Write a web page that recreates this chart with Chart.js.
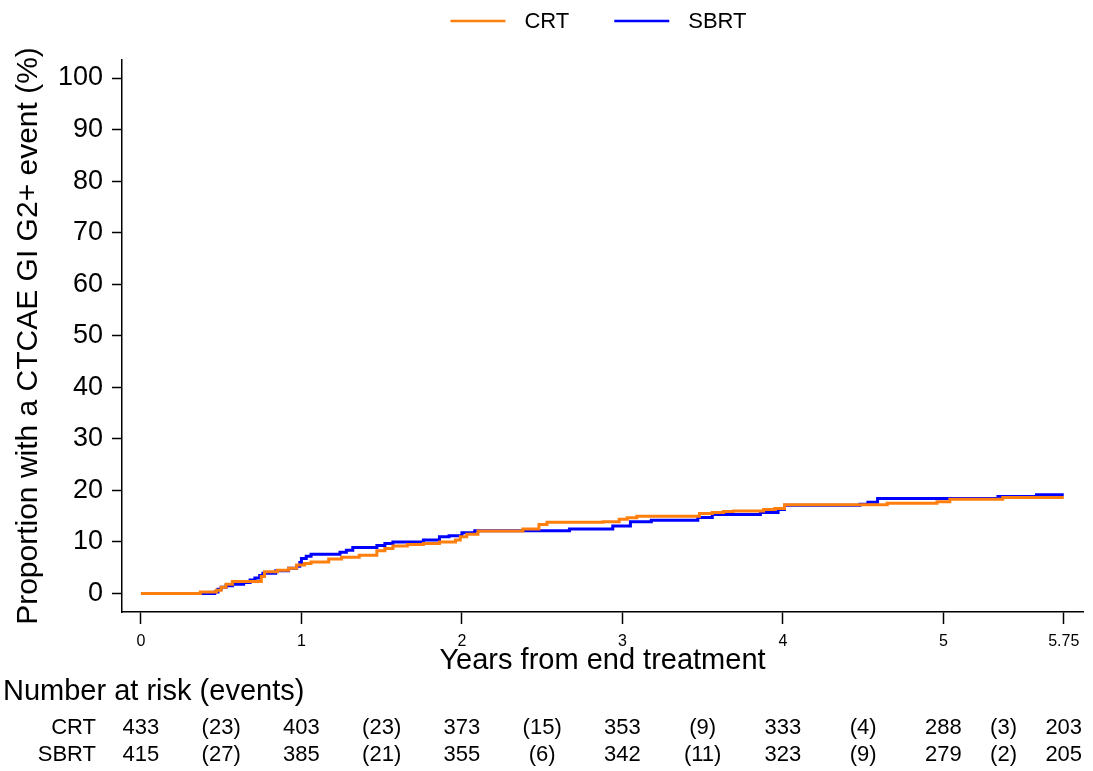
<!DOCTYPE html>
<html>
<head>
<meta charset="utf-8">
<script src="https://cdn.jsdelivr.net/npm/chart.js@4/dist/chart.umd.min.js"></script>
<style>
  body { margin: 0; background: #fff; }
  #wrap { width: 1093px; height: 771px; }
</style>
</head>
<body>
<div id="wrap"><canvas id="cumChart" width="1093" height="771"></canvas></div>
<script>
// Cumulative incidence of CTCAE GI G2+ events (step curves)
const crtTimes = [0, 0.37, 0.47, 0.50, 0.53, 0.57, 0.75, 0.77, 0.85, 0.92, 0.97, 1.02, 1.06, 1.17, 1.25, 1.36, 1.47, 1.52, 1.57, 1.66, 1.76, 1.86, 1.96, 1.99, 2.03, 2.10, 2.38, 2.48, 2.53, 2.88, 2.98, 3.03, 3.09, 3.48, 3.56, 3.63, 3.69, 3.88, 3.95, 4.01, 4.65, 4.96, 5.04, 5.37, 5.75];
const crtValues = [0, 0.3, 0.6, 1.2, 1.8, 2.3, 3.3, 4.2, 4.5, 4.9, 5.5, 5.8, 6.1, 6.7, 7.0, 7.4, 8.3, 8.7, 9.2, 9.5, 9.7, 10.0, 10.35, 11.0, 11.5, 12.1, 12.5, 13.4, 13.8, 13.9, 14.4, 14.7, 15.0, 15.5, 15.7, 15.9, 16.0, 16.3, 16.5, 17.2, 17.5, 17.8, 18.3, 18.6, 18.6];

const sbrtTimes = [0, 0.46, 0.48, 0.50, 0.53, 0.57, 0.64, 0.68, 0.71, 0.74, 0.76, 0.84, 0.92, 0.97, 0.99, 1.00, 1.03, 1.06, 1.24, 1.28, 1.32, 1.47, 1.52, 1.57, 1.76, 1.86, 1.92, 2.00, 2.08, 2.67, 2.94, 3.05, 3.18, 3.47, 3.56, 3.86, 3.97, 4.01, 4.48, 4.53, 4.59, 5.34, 5.58, 5.75];
const sbrtValues = [0, 0.3, 0.8, 1.2, 1.5, 1.8, 2.1, 2.6, 3.0, 3.5, 3.9, 4.4, 4.9, 5.3, 6.0, 6.8, 7.2, 7.6, 8.0, 8.4, 8.9, 9.3, 9.7, 10.0, 10.35, 11.0, 11.2, 11.8, 12.15, 12.5, 13.1, 13.9, 14.2, 14.75, 15.3, 15.7, 16.3, 17.1, 17.3, 17.7, 18.4, 18.8, 19.15, 19.15];

// axis ticks
const xTicks = [0, 1, 2, 3, 4, 5, 5.75];
const yTicks = [0, 10, 20, 30, 40, 50, 60, 70, 80, 90, 100];

// number at risk table
const riskTimes = [0, 1, 2, 3, 4, 5, 5.75];
const crtAtRisk = [433, 403, 373, 353, 333, 288, 203];
const crtEvents = [23, 23, 15, 9, 4, 3];
const sbrtAtRisk = [415, 385, 355, 342, 323, 279, 205];
const sbrtEvents = [27, 21, 6, 11, 9, 2];

const FONT = "'Liberation Sans', Arial, sans-serif";
const ORANGE = '#ff7f0e';
const BLUE = '#0000ff';

function toPoints(ts, vs) {
    return ts.map((t, i) => ({ x: t, y: vs[i] }));
}

// legend drawn above the plot
const topLegend = {
    id: 'topLegend',
    afterDraw(chart) {
        const ctx = chart.ctx;
        const area = chart.chartArea;
        ctx.save();
        ctx.font = '22px ' + FONT;
        ctx.textBaseline = 'middle';
        const lineLen = 55, gap = 19, between = 45;
        const items = chart.data.datasets.map(ds => ({ label: ds.label, color: ds.borderColor, w: ctx.measureText(ds.label).width }));
        let total = 0;
        items.forEach((it, i) => { total += lineLen + gap + it.w + (i < items.length - 1 ? between : 0); });
        let x = (area.left + area.right) / 2 - total / 2 - 4;
        const y = 21;
        items.forEach(it => {
            ctx.strokeStyle = it.color;
            ctx.lineWidth = 2.5;
            ctx.beginPath();
            ctx.moveTo(x, y);
            ctx.lineTo(x + lineLen, y);
            ctx.stroke();
            x += lineLen + gap;
            ctx.fillStyle = '#000';
            ctx.fillText(it.label, x, y + 1);
            x += it.w + between;
        });
        ctx.restore();
    }
};

// number at risk (events) table under the x axis
const riskTable = {
    id: 'riskTable',
    afterDraw(chart) {
        const ctx = chart.ctx;
        const xs = chart.scales.x;
        ctx.save();
        ctx.fillStyle = '#000';
        ctx.textBaseline = 'middle';
        ctx.font = '29px ' + FONT;
        ctx.textAlign = 'left';
        ctx.fillText('Number at risk (events)', 3, 692);

        ctx.font = '22px ' + FONT;
        const rows = [
            { name: 'CRT', n: crtAtRisk, ev: crtEvents, y: 728 },
            { name: 'SBRT', n: sbrtAtRisk, ev: sbrtEvents, y: 755 }
        ];
        rows.forEach(r => {
            ctx.textAlign = 'right';
            ctx.fillText(r.name, 96, r.y);
            ctx.textAlign = 'center';
            riskTimes.forEach((t, i) => {
                ctx.fillText(String(r.n[i]), xs.getPixelForValue(t), r.y);
                if (i < r.ev.length) {
                    const mid = (t + riskTimes[i + 1]) / 2;
                    ctx.fillText('(' + r.ev[i] + ')', xs.getPixelForValue(mid), r.y);
                }
            });
        });
        ctx.restore();
    }
};

document.addEventListener('DOMContentLoaded', function () {
    const ctx = document.getElementById('cumChart').getContext('2d');
    new Chart(ctx, {
        type: 'line',
        data: {
            datasets: [{
                label: 'CRT',
                data: toPoints(crtTimes, crtValues),
                borderColor: ORANGE,
                borderWidth: 3,
                stepped: 'before',
                pointRadius: 0,
                fill: false
            }, {
                label: 'SBRT',
                data: toPoints(sbrtTimes, sbrtValues),
                borderColor: BLUE,
                borderWidth: 3,
                stepped: 'before',
                pointRadius: 0,
                fill: false
            }]
        },
        options: {
            responsive: false,
            animation: false,
            devicePixelRatio: 1,
            layout: { padding: { top: 60, right: 10, bottom: 93, left: 0 } },
            plugins: {
                legend: { display: false },
                tooltip: { enabled: false }
            },
            scales: {
                x: {
                    type: 'linear',
                    min: -0.118,
                    max: 5.87,
                    afterBuildTicks: s => { s.ticks = xTicks.map(v => ({ value: v })); },
                    afterFit: s => { s.height = 66; },
                    ticks: {
                        autoSkip: false,
                        maxRotation: 0,
                        padding: 8,
                        color: '#000',
                        font: { family: FONT, size: 16 },
                        callback: v => String(v)
                    },
                    grid: { drawOnChartArea: false, drawTicks: true, tickLength: 12, tickWidth: 1.5, tickColor: '#000' },
                    border: { display: true, color: '#000', width: 1.5 },
                    title: {
                        display: true,
                        text: 'Years from end treatment',
                        color: '#000',
                        font: { family: FONT, size: 29 },
                        padding: 0
                    }
                },
                y: {
                    min: -3.6,
                    max: 103.5,
                    afterBuildTicks: s => { s.ticks = yTicks.map(v => ({ value: v })); },
                    afterFit: s => { s.width = 122; },
                    ticks: {
                        autoSkip: false,
                        padding: 9,
                        color: '#000',
                        font: { family: FONT, size: 27 }
                    },
                    grid: { drawOnChartArea: false, drawTicks: true, tickLength: 10, tickWidth: 1.5, tickColor: '#000' },
                    border: { display: true, color: '#000', width: 1.5 },
                    title: {
                        display: true,
                        text: 'Proportion with a CTCAE GI G2+ event (%)',
                        color: '#000',
                        font: { family: FONT, size: 30 },
                        padding: { top: 11, bottom: 0 }
                    }
                }
            }
        },
        plugins: [topLegend, riskTable]
    });
});
</script>
</body>
</html>
